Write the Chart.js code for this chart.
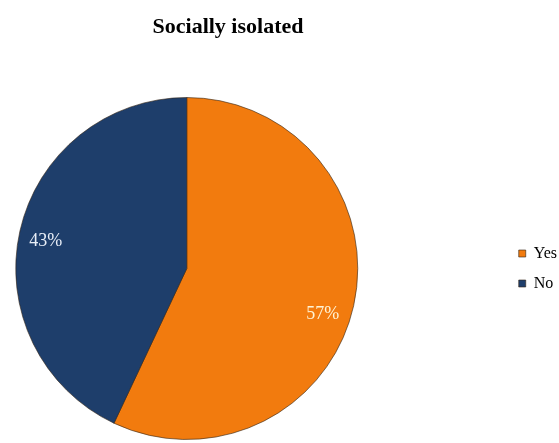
<!DOCTYPE html>
<html>
<head>
<meta charset="utf-8">
<script src="https://cdn.jsdelivr.net/npm/chart.js@4.4.1/dist/chart.umd.min.js"></script>
<style>
html, body { margin: 0; padding: 0; background: #fff; }
#wrap { width: 559px; height: 443px; }
</style>
</head>
<body>
<div id="wrap"><canvas id="sociallyIsolatedChart"></canvas></div>
<script>
const categories = ['Yes', 'No'];
const percentages = [57, 43];
const sliceColors = ['#f27b0e', '#1e3e6b'];
const labelColors = ['#fff3d4', '#e8eef7'];
// where along each slice's arc the label sits (0 = start, 1 = end)
const labelAnchor = [0.53, 0.49];
const chartTitle = 'Socially isolated';

// Title sits a bit left of the canvas centre, like the Excel original
const titlePlugin = {
    id: 'excelTitle',
    afterDraw(chart) {
        const ctx = chart.ctx;
        ctx.save();
        ctx.font = 'bold 22px "Liberation Serif"';
        ctx.fillStyle = '#000';
        ctx.textAlign = 'center';
        ctx.textBaseline = 'middle';
        ctx.fillText(chartTitle, 228, 27);
        ctx.restore();
    }
};

// Percentage labels near the outer edge of each slice
const pctLabels = {
    id: 'pctLabels',
    afterDatasetsDraw(chart) {
        const ctx = chart.ctx;
        const meta = chart.getDatasetMeta(0);
        ctx.save();
        ctx.font = '18px "Liberation Serif"';
        ctx.textAlign = 'center';
        ctx.textBaseline = 'middle';
        meta.data.forEach((arc, i) => {
            const p = arc.getProps(['x', 'y', 'startAngle', 'endAngle', 'outerRadius'], true);
            const a = p.startAngle + (p.endAngle - p.startAngle) * labelAnchor[i];
            const r = p.outerRadius * 0.84;
            ctx.fillStyle = labelColors[i];
            ctx.fillText(percentages[i] + '%', p.x + Math.cos(a) * r, p.y + Math.sin(a) * r);
        });
        ctx.restore();
    }
};

new Chart(document.getElementById('sociallyIsolatedChart'), {
    type: 'pie',
    data: {
        labels: categories,
        datasets: [{
            data: percentages,
            backgroundColor: sliceColors,
            borderColor: 'rgba(50, 35, 20, 0.6)',
            borderWidth: 1
        }]
    },
    options: {
        responsive: true,
        maintainAspectRatio: false,
        animation: false,
        layout: {
            padding: { left: 0, right: -8, top: 97, bottom: 3 }
        },
        plugins: {
            title: { display: false },
            // empty subtitle on the right acts as a spacer so the pie sits left
            subtitle: {
                display: true,
                position: 'right',
                text: '',
                font: { size: 1 },
                padding: { top: 130, bottom: 0 }
            },
            legend: {
                position: 'right',
                fullSize: false,
                weight: 3000,
                align: 'center',
                labels: {
                    boxWidth: 7,
                    boxHeight: 7,
                    padding: 14,
                    color: '#000',
                    font: { family: 'Liberation Serif', size: 16 }
                }
            },
            tooltip: { enabled: false }
        }
    },
    plugins: [titlePlugin, pctLabels]
});
</script>
</body>
</html>
